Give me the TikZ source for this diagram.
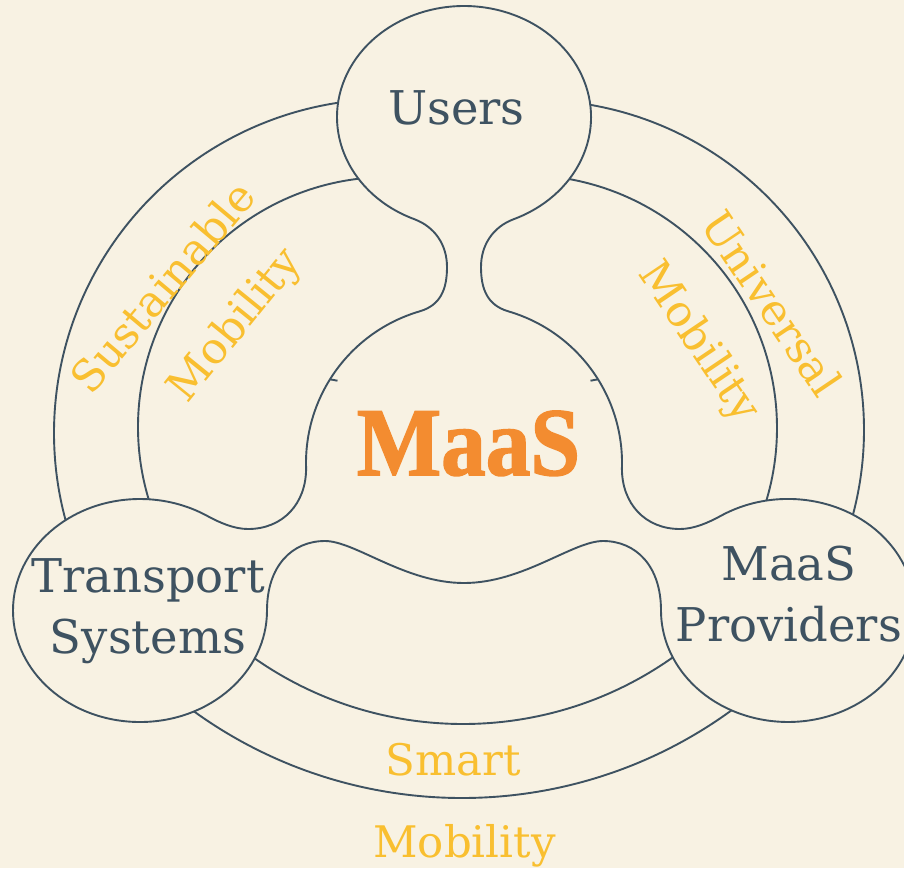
\documentclass[tikz,border=0pt]{standalone}
\usepackage{fontspec}
\newfontfamily\labfont{DejaVu Serif}
\newfontfamily\maasfont[FakeStretch=0.92,FakeBold=1.6]{Liberation Serif}
\definecolor{bg}{RGB}{248,242,227}
\definecolor{ink}{RGB}{62,82,97}
\definecolor{gold}{RGB}{249,191,48}
\definecolor{orng}{RGB}{243,140,48}
\tikzset{
  ringline/.style={draw=ink, line width=1.9pt},
  blob/.style={fill=bg, draw=ink, line width=1.9pt, line join=round},
  lab/.style={text=ink, inner sep=0pt, font=\labfont\fontsize{46.5}{61}\selectfont},
  ringlab/.style={text=gold, inner sep=0pt, font=\labfont\fontsize{43.5}{53}\selectfont},
  maaslab/.style={text=orng, inner sep=0pt, font=\maasfont\bfseries\fontsize{97}{110}\selectfont},
}
\begin{document}
\begin{tikzpicture}[x=1pt,y=-1pt]
\fill[bg] (0,0) rectangle (904,868);
\useasboundingbox (0,0) rectangle (904,868);
% ring arcs (ends run into the blob and get covered)
\draw[ringline] ([shift={(388,433)}]163:334) arc[start angle=163,end angle=263,radius=334];
\draw[ringline] ([shift={(534,430)}]277:330) arc[start angle=277,end angle=377,radius=330];
\draw[ringline] ([shift={(388,427)}]161:250) arc[start angle=161,end angle=266,radius=250];
\draw[ringline] ([shift={(524,428)}]277:253) arc[start angle=277,end angle=379,radius=253];
\draw[ringline] ([shift={(463,360.5)}]52:363.5) arc[start angle=52,end angle=127,radius=363.5];
\draw[ringline] ([shift={(462,340)}]52:458) arc[start angle=52,end angle=128,radius=458];
% merged outline of users, centre, transport and providers
\filldraw[blob] (414.4,219.2)
  arc[start angle=113, end angle=427, x radius=127, y radius=111]
  .. controls (493.0,226.9) and (481,245) .. (481,267)
  .. controls (481,289) and (487.2,305.1) .. (508.35,311.35)
  arc[start angle=286.3, end angle=362, radius=158]
  .. controls (621.9,503.5) and (645,529) .. (680,529)
  .. controls (694,529) and (708.4,522.6) .. (720.7,515.9)
  arc[start angle=238, end angle=540, x radius=127, y radius=111.5]
  .. controls (661,566) and (636,541) .. (603,541)
  .. controls (573,541) and (523,583) .. (464,583)
  .. controls (405,583) and (355,541) .. (325,541)
  .. controls (292,541) and (267,566) .. (267,610.5)
  arc[start angle=0, end angle=302, x radius=127, y radius=111.5]
  .. controls (219.6,522.6) and (234,529) .. (248,529)
  .. controls (283,529) and (306.1,503.5) .. (306.1,468.5)
  arc[start angle=178, end angle=253.7, radius=158]
  .. controls (440.75,305.15) and (447,289) .. (447,267)
  .. controls (447,245) and (435.0,226.9) .. cycle;
\draw[ringline] (330,379.3) -- (337.5,380.7);
\draw[ringline] (598,379.3) -- (590.5,380.7);
% labels
\node[lab, anchor=base] (users) at (456.5,124) {Users};
\node[lab, anchor=base] (trans) at (148,592) {\begin{tabular}[t]{@{}c@{}}Transport\\Systems\end{tabular}};
\node[lab, anchor=base] (prov) at (789,580) {\begin{tabular}[t]{@{}c@{}}MaaS\\Providers\end{tabular}};
\node[maaslab, anchor=base] (maas) at (468.5,475) {MaaS};
\node[ringlab, anchor=base] (smart) at (453.5,775) {Smart};
\node[ringlab, anchor=base] (mobs) at (464.5,857) {Mobility};
\node[ringlab, rotate=50] (sust) at (162,287) {Sustainable};
\node[ringlab, rotate=51] (mobl) at (236,326) {Mobility};
\node[ringlab, rotate=-56] (univ) at (772,303) {Universal};
\node[ringlab, rotate=-56] (mobr) at (698,343) {Mobility};
\end{tikzpicture}
\end{document}
